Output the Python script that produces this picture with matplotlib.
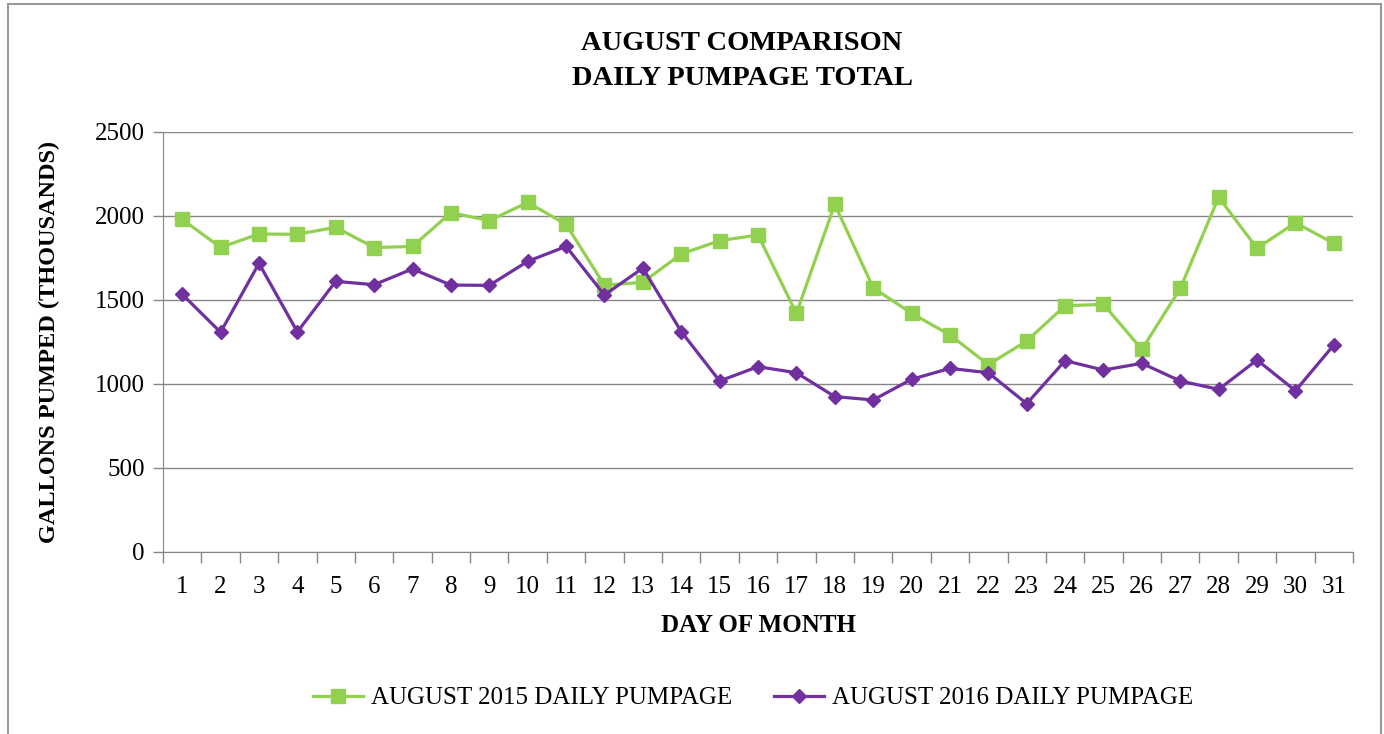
import matplotlib.pyplot as plt
from matplotlib.lines import Line2D

days = list(range(1, 32))
pump_2015 = [1980, 1813, 1893, 1891, 1933, 1812, 1819, 2020, 1972, 2081,
             1950, 1588, 1605, 1774, 1853, 1887, 1421, 2069, 1573, 1421,
             1292, 1115, 1256, 1466, 1474, 1206, 1569, 2111, 1808, 1960, 1837]
pump_2016 = [1534, 1308, 1718, 1310, 1611, 1591, 1685, 1589, 1587, 1730,
             1819, 1530, 1690, 1312, 1018, 1103, 1067, 925, 905, 1028,
             1093, 1067, 883, 1139, 1083, 1123, 1018, 968, 1143, 960, 1232]
yticks = [0, 500, 1000, 1500, 2000, 2500]

green = '#92D050'
purple = '#7030A0'
grid = '#868686'
plt.rcParams['font.family'] = ['Liberation Serif', 'DejaVu Serif']

fig = plt.figure(figsize=(13.84, 7.34), dpi=100)
ax = fig.add_axes([163/1384, 1 - 552/734, (1353-163)/1384, (552-132)/734])

ax.plot(days, pump_2015, color=green, lw=2.3, marker='s', ms=10.5, label='AUGUST 2015 DAILY PUMPAGE')
ax.plot(days, pump_2016, color=purple, lw=2.3, marker='D', ms=7.5, label='AUGUST 2016 DAILY PUMPAGE')

ax.set_xlim(0.5, 31.5)
ax.set_ylim(0, 2500)
ax.set_yticks(yticks)
ax.yaxis.grid(True, color=grid, lw=1)
ax.set_axisbelow(True)
ax.set_xticks([d + 0.5 for d in [0] + days])
ax.set_xticklabels([])
ax.set_xticks(days, minor=True)
ax.set_xticklabels([str(d) for d in days], minor=True)
ax.tick_params(axis='x', which='major', direction='out', length=8, color=grid, width=1)
ax.tick_params(axis='x', which='minor', length=0, labelsize=18, pad=17)
ax.tick_params(axis='y', direction='out', length=7, color=grid, width=1, labelsize=18, pad=6)
for s in ['top', 'right']:
    ax.spines[s].set_visible(False)
for s in ['left', 'bottom']:
    ax.spines[s].set_color(grid)

ax.set_xlabel('DAY OF MONTH', fontsize=18, fontweight='bold', labelpad=12)
ax.set_ylabel('GALLONS PUMPED (THOUSANDS)', fontsize=17.5, fontweight='bold', labelpad=25)

fig.text(742/1384, 1 - 61/734, 'AUGUST COMPARISON\nDAILY PUMPAGE TOTAL', ha='center', va='center',
         fontsize=20.5, fontweight='bold', linespacing=1.55)

fig.legend(loc='center', bbox_to_anchor=(753/1384, 1 - 698/734), ncol=2, frameon=False,
           fontsize=18, handlelength=2.0, columnspacing=1.7, handletextpad=0.3)

# outer chart border
for xs, ys in [([8, 8], [734, 4]), ([8, 1381], [4, 4]), ([1381, 1381], [4, 734])]:
    fig.add_artist(Line2D([x/1384 for x in xs], [1 - y/734 for y in ys], color='#9a9a9a', lw=1.5))

fig.savefig('out.png', dpi=100)
